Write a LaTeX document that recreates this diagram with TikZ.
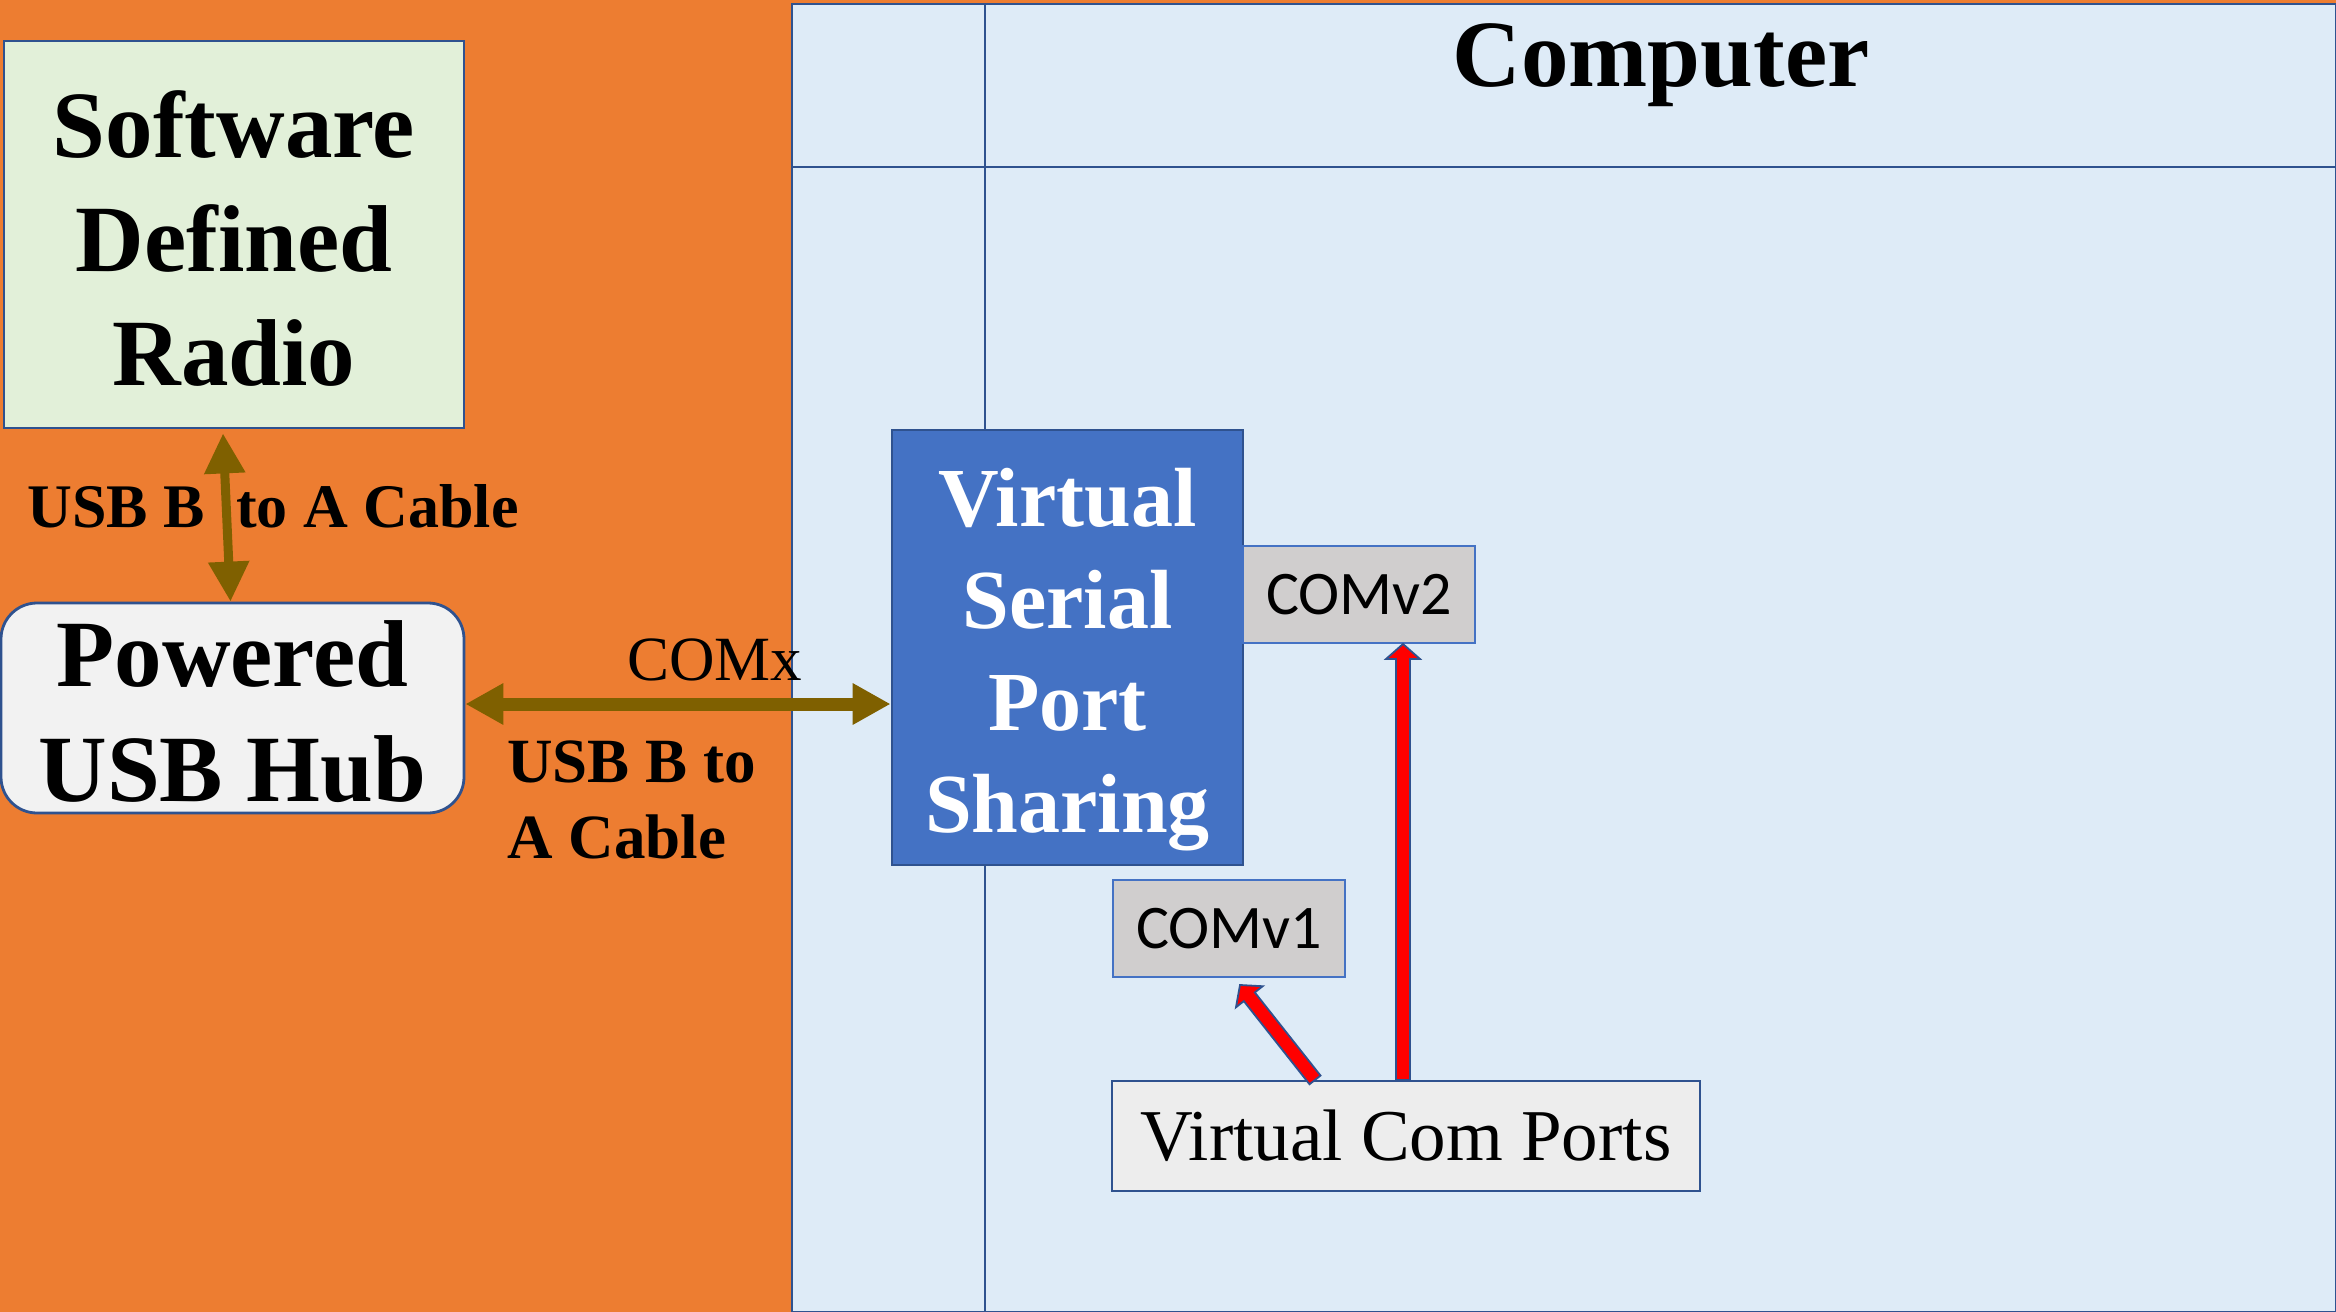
\documentclass[tikz,border=0pt]{standalone}
\usepackage{fontspec}
\setmainfont{Liberation Serif}
\newfontfamily\calibrifont{Carlito}
\usetikzlibrary{arrows.meta,calc}

\definecolor{bgorange}{HTML}{ED7D31}
\definecolor{lanefill}{HTML}{DEEBF7}
\definecolor{edgeblue}{HTML}{2F528F}
\definecolor{portedge}{HTML}{4472C4}
\definecolor{sdrgreen}{HTML}{E2F0D9}
\definecolor{hubgray}{HTML}{F2F2F2}
\definecolor{vspsblue}{HTML}{4472C4}
\definecolor{comgray}{HTML}{D0CECE}
\definecolor{vcpgray}{HTML}{EDEDED}
\definecolor{cableolive}{HTML}{7F6000}

\newcommand\fsz[2]{\fontsize{#1}{#2}\selectfont}
% invisible strut that raises the height of a first line
\newcommand\topstrut[1]{\rule{0pt}{#1}}

% filled block arrow with an outline, from #1 to #2
\newcommand\blockarrow[2]{%
  \coordinate (ba-base) at ($(#2)!7.5pt!(#1)$);
  \filldraw[fill=red, draw=edgeblue, line width=0.9pt, line join=miter]
    ($(#1)!3.5pt!90:(#2)$) -- ($(ba-base)!3.5pt!90:(#2)$) --
    ($(ba-base)!8.5pt!90:(#2)$) -- (#2) --
    ($(ba-base)!8.5pt!-90:(#2)$) -- ($(ba-base)!3.5pt!-90:(#2)$) --
    ($(#1)!3.5pt!-90:(#2)$) -- cycle;
}

\tikzset{
  box/.style={draw=edgeblue, line width=1.4pt, inner sep=0pt, align=center},
  portbox/.style={draw=portedge, line width=1pt, fill=comgray, inner sep=0pt,
    minimum width=116pt, minimum height=48.5pt, font=\calibrifont\fsz{31pt}{36pt}},
  lane/.style={draw=edgeblue, line width=1.3pt},
  cable/.style={draw=cableolive, <->},
  label/.style={inner sep=0pt, anchor=base west},
}

\begin{document}
\begin{tikzpicture}[x=0.5pt,y=-0.5pt]
\useasboundingbox (0,0) rectangle (2336,1312);
\fill[bgorange] (0,0) rectangle (2336,1312);

% computer swimlane
\fill[lanefill] (792,4) rectangle (2336,1312);
\draw[lane] (792,4) rectangle (2336,1312);
\draw[lane] (792,167) -- (2336,167);
\draw[lane, line width=1pt] (985,4) -- (985,1312);
\node[font=\bfseries\fsz{47.5pt}{57pt}, inner sep=0pt, anchor=base] (title) at (1661,86) {Computer};

% outside devices
\node[box, fill=sdrgreen, minimum width=230pt, minimum height=193.5pt,
  font=\bfseries\fsz{47.5pt}{57pt}] (sdr) at (234,234.5) {\topstrut{37pt}Software\\Defined\\Radio};
\node[box, fill=hubgray, rounded corners=18pt, minimum width=231.5pt, minimum height=105pt,
  font=\bfseries\fsz{47.5pt}{57.5pt}] (hub) at (232.5,708) {\topstrut{37pt}Powered\\USB Hub};

% software inside the computer
\node[box, fill=vspsblue, text=white, minimum width=175.5pt, minimum height=217.5pt,
  font=\bfseries\fsz{42pt}{51pt}] (vsps) at (1067.5,647.5) {\topstrut{41pt}Virtual\\Serial\\Port\\Sharing};
\node[portbox] (comv2) at (1359,594.5) {COMv2};
\node[portbox] (comv1) at (1229,928.5) {COMv1};
\node[box, fill=vcpgray, line width=1.1pt, minimum width=294pt, minimum height=55pt,
  font=\fsz{36.5pt}{42pt}] (vcp) at (1406,1136) {Virtual Com Ports};

% cable labels
\node[label, font=\bfseries\fsz{31pt}{38pt}] (usb1) at (27,527) {USB B\hspace{8pt} to A Cable};
\node[label, font=\fsz{31.5pt}{38pt}] (comx) at (627,680) {COMx};
\node[label, font=\bfseries\fsz{31.5pt}{38pt}] (usb2a) at (507,782) {USB B to};
\node[label, font=\bfseries\fsz{31.5pt}{38pt}] (usb2b) at (507,858) {A Cable};

% cables
\draw[cable, line width=4.5pt, {Triangle[length=20pt,width=19.5pt]}-{Triangle[length=20pt,width=19.5pt]}]
  ([xshift=-5.5pt,yshift=-2pt]sdr.south) -- ([xshift=-1pt]hub.north);
\draw[cable, line width=6.5pt, {Triangle[length=19pt,width=19.5pt]}-{Triangle[length=19pt,width=19.5pt]}]
  ([yshift=2pt]hub.east) -- ([yshift=2pt]hub.east -| vsps.west);

% virtual port links
\coordinate (v2tip) at ([xshift=22pt]comv2.south);
\coordinate (v2start) at (v2tip |- vcp.north);
\coordinate (v1tip) at ([xshift=5.5pt,yshift=-3.5pt]comv1.south);
\coordinate (v1start) at ([xshift=-45.5pt]vcp.north);
\blockarrow{v2start}{v2tip}
\blockarrow{v1start}{v1tip}
\end{tikzpicture}
\end{document}
